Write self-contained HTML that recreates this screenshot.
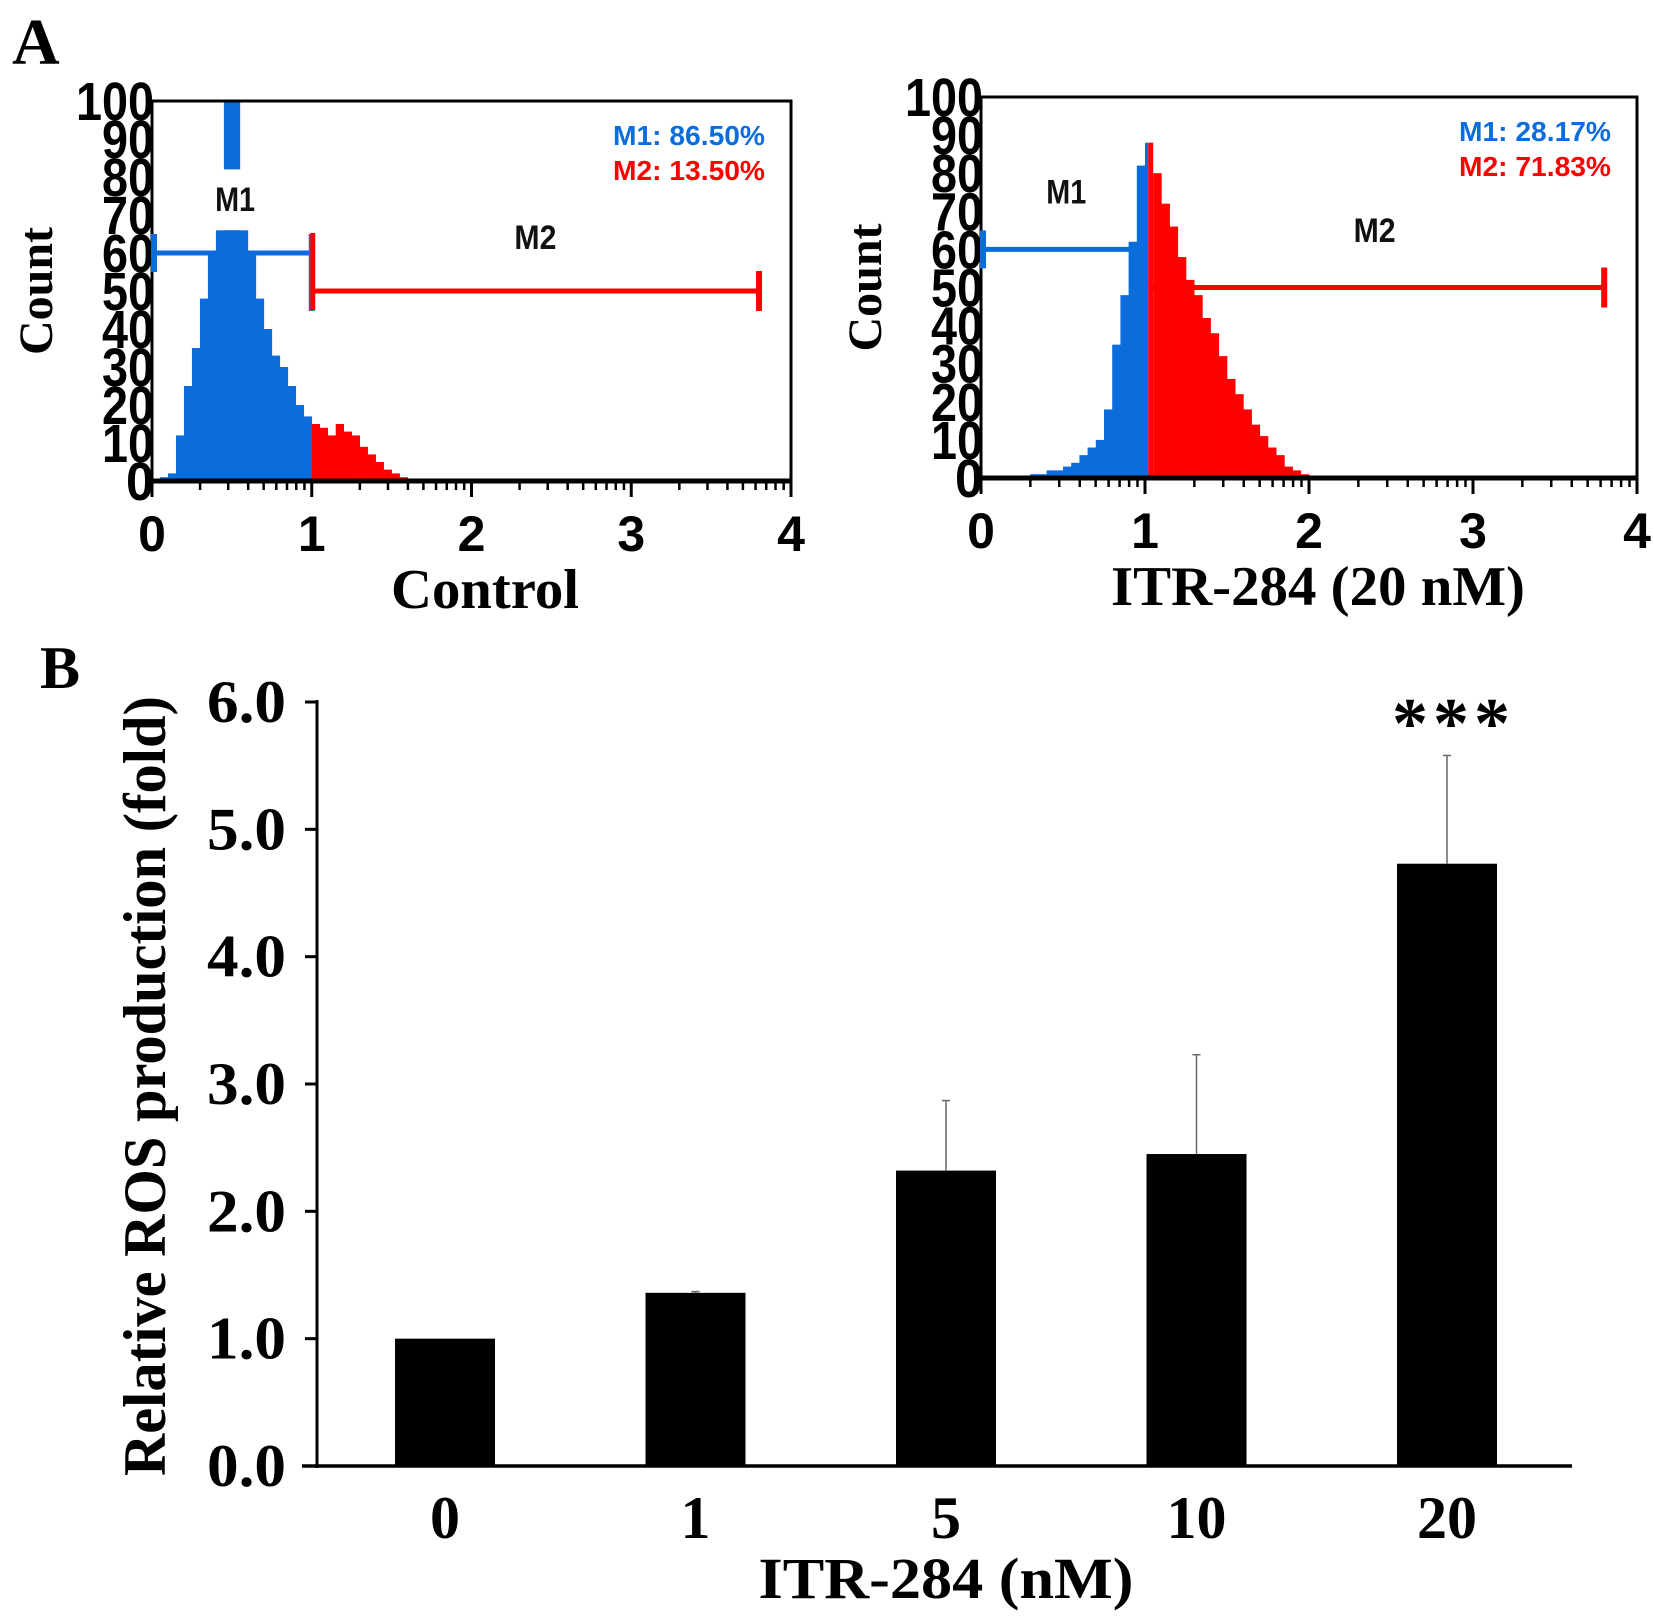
<!DOCTYPE html>
<html><head><meta charset="utf-8"><style>
html,body{margin:0;padding:0;background:#fff}
svg{display:block}
</style></head><body>
<svg id="fig" width="1654" height="1620" viewBox="0 0 1654 1620" xmlns="http://www.w3.org/2000/svg">
<text x="12" y="64" font-family="Liberation Serif, serif" font-weight="bold" font-size="66">A</text>
<text x="40" y="688" font-family="Liberation Serif, serif" font-weight="bold" font-size="60">B</text>
<g id="hist1"></g>
<g id="hist2"></g>
<g id="bars"></g>
</svg>
<script>
const NS='http://www.w3.org/2000/svg';
const BLUE='#0b6ddb', RED='#ff0000';
// histogram data (bins of 0.05 units, starting at 0)
const binStep=0.05;
const controlCounts=[0,1,2,12,25,35,48,60,66,100,100,66,60,48,40,33,30,25,20,17,15,14,12,15,13,12,9,7,5,3,2,1,0];
const itrCounts=[0,0,0,0,0,0,1,1,2,2,3,4,6,8,10,18,35,48,62,82,88,80,72,66,58,52,48,42,38,32,26,22,18,14,11,8,6,3,2,1,0];
const controlSplit=1.0, itrSplit=1.02;
const controlStats=['M1: 86.50%','M2: 13.50%'];
const itrStats=['M1: 28.17%','M2: 71.83%'];
const xTicks=[0,1,2,3,4];
const yTicks=[0,10,20,30,40,50,60,70,80,90,100];
// bar chart data
const categories=['0','1','5','10','20'];
const rosValues=[1.0,1.36,2.32,2.45,4.73];
const rosErrors=[0,0.01,0.55,0.78,0.85];
const rosTicks=[0,1,2,3,4,5,6];

function el(parent,tag,attrs,text){const e=document.createElementNS(NS,tag);for(const k in attrs)e.setAttribute(k,attrs[k]);if(text!==undefined)e.textContent=text;parent.appendChild(e);return e;}

function drawHist(g,cfg){
  const {L,R,T,B,counts,split,stats,title,m1End,mask}=cfg;
  const xs=v=>L+(v/4)*(R-L);
  const ys=v=>B-(v/100)*(B-T);
  counts.forEach((c,i)=>{
    const x0=i*binStep;
    if(c<=0)return;
    if(x0<split && x0+binStep>split){
      const b1=el(g,'rect',{x:xs(x0),y:ys(c),width:xs(split)-xs(x0),height:B-ys(c),fill:BLUE});
      
      
      const b2=el(g,'rect',{x:xs(split),y:ys(c),width:xs(x0+binStep)-xs(split),height:B-ys(c),fill:RED});
      
      
    } else {
      const b=el(g,'rect',{x:xs(x0),y:ys(c),width:xs(x0+binStep)-xs(x0)+0.3,height:B-ys(c),fill:x0<split?BLUE:RED});
      
      
    }
  });
  if(mask){el(g,'rect',{x:xs(mask[0]),y:ys(mask[3]),width:xs(mask[1])-xs(mask[0]),height:ys(mask[2])-ys(mask[3]),fill:'#fff'});}
  const fr=el(g,'rect',{x:L,y:T,width:R-L,height:B-T,fill:'none',stroke:'#000','stroke-width':3});
  
  
  el(g,'line',{x1:L,y1:B,x2:R,y2:B,stroke:'#000','stroke-width':5});
  for(let d=0;d<4;d++){for(let k=2;k<=9;k++){const v=d+Math.log10(k);el(g,'line',{x1:xs(v),y1:B,x2:xs(v),y2:B+9,stroke:'#000','stroke-width':2.5});}}
  xTicks.forEach(t=>{
    el(g,'line',{x1:xs(t),y1:B,x2:xs(t),y2:B+16,stroke:'#000','stroke-width':3});
    const lb=el(g,'text',{x:xs(t),y:B+70,'text-anchor':'middle','font-family':'Liberation Sans, sans-serif','font-size':50,'font-weight':'bold'},String(t));
    
    
  });
  yTicks.forEach(t=>{
    const w=t===100?78:(t===0?28:52);
    const lb=el(g,'text',{x:L-w+2,y:ys(t)+19,'font-family':'Liberation Sans, sans-serif','font-size':54,'font-weight':'bold',textLength:w,lengthAdjust:'spacingAndGlyphs'},String(t));
    
    
  });
  const yM1=ys(60), yM2=ys(50);
  el(g,'line',{x1:xs(0),y1:yM1,x2:xs(m1End),y2:yM1,stroke:BLUE,'stroke-width':5});
  el(g,'line',{x1:xs(0)+2,y1:yM1-19,x2:xs(0)+2,y2:yM1+19,stroke:BLUE,'stroke-width':6});
  if(cfg.m1Cap){el(g,'line',{x1:xs(m1End),y1:yM1-19,x2:xs(m1End),y2:yM1+58,stroke:BLUE,'stroke-width':6});}
  el(g,'line',{x1:xs(split),y1:yM2,x2:xs(3.8),y2:yM2,stroke:RED,'stroke-width':5});
  if(cfg.m1Cap)el(g,'line',{x1:xs(split)+1,y1:yM2-58,x2:xs(split)+1,y2:yM2+19,stroke:RED,'stroke-width':5});
  el(g,'line',{x1:xs(3.8),y1:yM2-20,x2:xs(3.8),y2:yM2+20,stroke:RED,'stroke-width':6});
  const m1=el(g,'text',{x:xs(cfg.m1Pos[0]),y:ys(cfg.m1Pos[1]),'text-anchor':'middle','font-family':'Liberation Sans, sans-serif','font-size':34,'font-weight':'bold',fill:'#111',textLength:40,lengthAdjust:'spacingAndGlyphs'},'M1');
  
  
  const m2=el(g,'text',{x:xs(cfg.m2Pos[0]),y:ys(cfg.m2Pos[1]),'text-anchor':'middle','font-family':'Liberation Sans, sans-serif','font-size':34,'font-weight':'bold',fill:'#111',textLength:42,lengthAdjust:'spacingAndGlyphs'},'M2');
  
  
  const s1=el(g,'text',{x:R-26,y:T+44,'text-anchor':'end','font-family':'Liberation Sans, sans-serif','font-size':28,'font-weight':'bold',fill:BLUE,textLength:152,lengthAdjust:'spacingAndGlyphs'},stats[0]);
  
  
  const s2=el(g,'text',{x:R-26,y:T+79,'text-anchor':'end','font-family':'Liberation Sans, sans-serif','font-size':28,'font-weight':'bold',fill:RED,textLength:152,lengthAdjust:'spacingAndGlyphs'},stats[1]);
  
  
  const yt=el(g,'text',{x:0,y:0,transform:`translate(${L-100},${(T+B)/2}) rotate(-90)`,'text-anchor':'middle','font-family':'Liberation Serif, serif','font-weight':'bold','font-size':48},'Count');
  
  
  const xt=el(g,'text',{x:cfg.titleX,y:B+127,'text-anchor':'middle','font-family':'Liberation Serif, serif','font-weight':'bold','font-size':56,textLength:cfg.titleW,lengthAdjust:'spacingAndGlyphs'},title);
  
  
}

drawHist(document.getElementById('hist1'),{L:152,R:791,T:101,B:481,counts:controlCounts,split:controlSplit,stats:controlStats,title:'Control',titleW:188,m1End:1.0,m1Cap:true,mask:[0.37,0.68,66,82],m1Pos:[0.52,71],m2Pos:[2.4,61],titleX:485});
drawHist(document.getElementById('hist2'),{L:981,R:1637,T:97,B:478,counts:itrCounts,split:itrSplit,stats:itrStats,title:'ITR-284 (20 nM)',titleW:414,m1End:0.92,m1Cap:false,mask:null,m1Pos:[0.52,72],m2Pos:[2.4,62],titleX:1318});

(function(){
  const g=document.getElementById('bars');
  const L=317,R=1572,T=702,B=1466;
  const ys=v=>B-(v/6)*(B-T);
  const xc=i=>445+i*250.5;
  const bw=100;
  el(g,'line',{x1:L,y1:T-2,x2:L,y2:B+2,stroke:'#000','stroke-width':3});
  el(g,'line',{x1:L-15,y1:B,x2:R,y2:B,stroke:'#000','stroke-width':3.5});
  rosTicks.forEach(t=>{
    el(g,'line',{x1:L-12,y1:ys(t),x2:L,y2:ys(t),stroke:'#000','stroke-width':3});
    const lb=el(g,'text',{x:286,y:ys(t)+20,'text-anchor':'end','font-family':'Liberation Serif, serif','font-weight':'bold','font-size':60,textLength:79,lengthAdjust:'spacingAndGlyphs'},t.toFixed(1));
    
    
  });
  rosValues.forEach((v,i)=>{
    const b=el(g,'rect',{x:xc(i)-bw/2,y:ys(v),width:bw,height:B-ys(v),fill:'#000'});
    
    
    const e=rosErrors[i];
    if(e>0){
      el(g,'line',{x1:xc(i),y1:ys(v),x2:xc(i),y2:ys(v+e),stroke:'#666','stroke-width':1.5});
      el(g,'line',{x1:xc(i)-4,y1:ys(v+e),x2:xc(i)+4,y2:ys(v+e),stroke:'#666','stroke-width':1.5});
    }
    const lb=el(g,'text',{x:xc(i),y:1538,'text-anchor':'middle','font-family':'Liberation Serif, serif','font-weight':'bold','font-size':60},categories[i]);
    
    
  });
  const st=el(g,'text',{x:xc(4)+4,y:ys(rosValues[4]+rosErrors[4])-8,'text-anchor':'middle','font-family':'Liberation Serif, serif','font-weight':'bold','font-size':72,textLength:118,lengthAdjust:'spacing'},'***');
  
  
  const xt=el(g,'text',{x:946,y:1598,'text-anchor':'middle','font-family':'Liberation Serif, serif','font-weight':'bold','font-size':58,textLength:375,lengthAdjust:'spacingAndGlyphs'},'ITR-284 (nM)');
  
  
  const yt=el(g,'text',{x:0,y:0,transform:'translate(165,1086) rotate(-90)','text-anchor':'middle','font-family':'Liberation Serif, serif','font-weight':'bold','font-size':60,textLength:780,lengthAdjust:'spacingAndGlyphs'},'Relative ROS production (fold)');
  
  
})();
</script>
</body></html>
